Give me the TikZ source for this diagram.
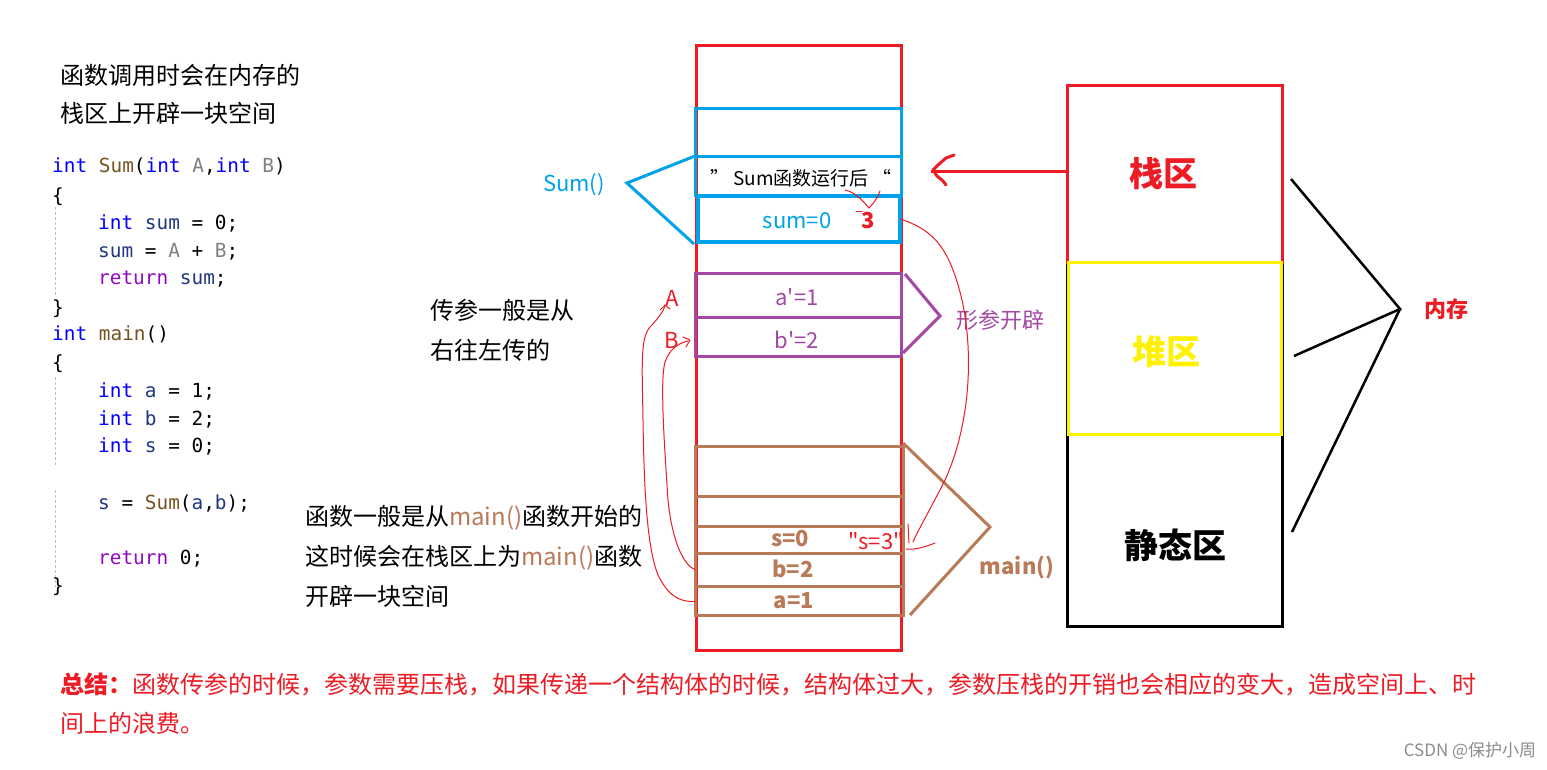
\documentclass[tikz,border=0pt]{standalone}
\usepackage{fontspec}
\setmainfont{Noto Sans CJK SC}
\setmonofont{DejaVu Sans Mono}
\definecolor{pred}{HTML}{ED1C24}
\definecolor{pblue}{HTML}{00A2E8}
\definecolor{ppurple}{HTML}{A349A4}
\definecolor{pbrown}{HTML}{B97A57}
\definecolor{pyellow}{HTML}{FFF200}
\definecolor{ckw}{HTML}{0000FF}
\definecolor{cfn}{HTML}{74531F}
\definecolor{cpar}{HTML}{808080}
\definecolor{cvar}{HTML}{1F377F}
\definecolor{cret}{HTML}{8F08C4}
\newcommand{\ckw}[1]{\textcolor{ckw}{#1}}
\newcommand{\cfn}[1]{\textcolor{cfn}{#1}}
\newcommand{\cpar}[1]{\textcolor{cpar}{#1}}
\newcommand{\cvar}[1]{\textcolor{cvar}{#1}}
\newcommand{\cret}[1]{\textcolor{cret}{#1}}
\tikzset{
  cell/.style={draw, inner sep=0pt, outer sep=0pt, line width=3pt},
  codeline/.style={anchor=base west, inner sep=0pt, font=\ttfamily\fontsize{19.4}{19.4}\selectfont},
  cntext/.style={anchor=base west, inner sep=0pt, font=\fontsize{24}{24}\selectfont},
  lbl/.style={inner sep=0pt, font=\fontsize{22}{22}\selectfont},
  blbl/.style={inner sep=0pt, font=\bfseries\fontsize{22}{22}\selectfont},
  bigl/.style={inner sep=0pt, font=\bfseries\fontsize{34}{34}\selectfont},
  hand/.style={draw=pred, line width=1pt, line cap=round, line join=round},
  guide/.style={draw=black!25, line width=0.8pt, dash pattern=on 3pt off 2pt},
}
\begin{document}
\begin{tikzpicture}[x=1pt,y=-1pt]
\useasboundingbox (0,0) rectangle (1547,769);
\fill[white] (0,0) rectangle (1547,769);

% top-left text
\node[cntext] (t1) at (60,84) {函数调用时会在内存的};
\node[cntext] (t2) at (60,122) {栈区上开辟一块空间};

% code
\draw[guide] (55,207) -- (55,297);
\draw[guide] (55,377) -- (55,465);
\draw[guide] (55,490) -- (55,587);
\node[codeline] (c1) at (52,172) {\ckw{int} \cfn{Sum}(\ckw{int} \cpar{A},\ckw{int} \cpar{B})};
\node[codeline] (c2) at (52,202) {\{};
\node[codeline] (c3) at (98,229) {\ckw{int} \cvar{sum} = 0;};
\node[codeline] (c4) at (98,257) {\cvar{sum} = \cpar{A} + \cpar{B};};
\node[codeline] (c5) at (98,284) {\cret{return} \cvar{sum};};
\node[codeline] (c6) at (52,314) {\}};
\node[codeline] (c7) at (52,340) {\ckw{int} \cfn{main}()};
\node[codeline] (c8) at (52,369) {\{};
\node[codeline] (c9) at (98,397) {\ckw{int} \cvar{a} = 1;};
\node[codeline] (c10) at (98,425) {\ckw{int} \cvar{b} = 2;};
\node[codeline] (c11) at (98,452) {\ckw{int} \cvar{s} = 0;};
\node[codeline] (c12) at (98,509) {\cvar{s} = \cfn{Sum}(\cvar{a},\cvar{b});};
\node[codeline] (c13) at (98,564) {\cret{return} 0;};
\node[codeline] (c14) at (52,592) {\}};

% middle texts
\node[cntext] (m1) at (430,319) {传参一般是从};
\node[cntext] (m2) at (430,359) {右往左传的};
\node[cntext] (m3) at (305,525) {函数一般是从\textcolor{pbrown}{main()}函数开始的};
\node[cntext] (m4) at (305,565) {这时候会在栈区上为\textcolor{pbrown}{main()}函数};
\node[cntext] (m5) at (305,605) {开辟一块空间};

% big stack rectangle
\node[cell, draw=pred, minimum width=205, minimum height=605] (stk) at (798.5,347.5) {};

% Sum frame
\node[cell, draw=pblue, minimum width=206, minimum height=48] (sb1) at (798,132) {};
\node[cell, draw=pblue, minimum width=206, minimum height=39] (sb2) at (798,175.5) {};
\node[cell, draw=pblue, line width=4pt, minimum width=202, minimum height=46] (sb3) at (799,219) {};
\node[inner sep=0pt, font=\fontsize{19}{19}\selectfont] (after) at (801,178) {” Sum函数运行后 “};
\node[lbl, text=pblue] (sumv) at (797,221) {sum=0};
\node[inner sep=0pt, text=pred, font=\bfseries\fontsize{22}{22}\selectfont] (three) at (868,221) {3};
\node[lbl, text=pblue] (sumf) at (574,185) {Sum()};
\coordinate (sumhub) at (627,183);
\draw[pblue, line width=3pt] (sb2.north west) -- (sumhub) -- ([xshift=-4pt,yshift=-2pt]sb3.south west);

% parameter frames
\node[cell, draw=ppurple, minimum width=206, minimum height=44] (pa) at (798,295) {};
\node[cell, draw=ppurple, minimum width=206, minimum height=39] (pb) at (798,336.5) {};
\node[lbl, text=ppurple] (pav) at (797,297) {a\textquotesingle=1};
\node[lbl, text=ppurple] (pbv) at (797,340) {b\textquotesingle=2};
\coordinate (phub) at (940,316);
\draw[ppurple, line width=3pt] (905,274) -- (phub) -- (903,353);
\node[lbl, text=ppurple] (xcp) at (1000,320) {形参开辟};
\node[lbl, text=pred] (la) at (672,298) {A};
\node[lbl, text=pred] (lb) at (672,340) {B};

% main frames
\node[cell, draw=pbrown, minimum width=208, minimum height=50] (mr1) at (799,471) {};
\node[cell, draw=pbrown, minimum width=208, minimum height=30] (mr2) at (799,511) {};
\node[cell, draw=pbrown, minimum width=208, minimum height=27] (mr3) at (799,539.5) {};
\node[cell, draw=pbrown, minimum width=208, minimum height=33] (mr4) at (799,569.5) {};
\node[cell, draw=pbrown, minimum width=208, minimum height=29] (mr5) at (799,600.5) {};
\node[blbl, text=pbrown] (sv) at (790,539) {s=0};
\node[blbl, text=pbrown] (bv) at (793,569) {b=2};
\node[blbl, text=pbrown] (av) at (794,601) {a=1};
\node[lbl, text=pred] (s3) at (876,541) {\textquotedbl s=3\textquotedbl};
\coordinate (mhub) at (990,527);
\draw[pbrown, line width=3pt] (903,443) -- (mhub) -- (910,615);
\node[blbl, text=pbrown] (mainl) at (1017,567) {main()};

% memory box
\node[cell, draw=black, minimum width=215, minimum height=541] (mem) at (1174.5,355.5) {};
\node[cell, draw=pred, minimum width=215, minimum height=177] (zhan) at (1174.5,173.5) {};
\node[cell, draw=pyellow, minimum width=213, minimum height=172] (dui) at (1174.5,348) {};
\node[bigl, text=pred] (zhant) at (1163,174) {栈区};
\node[bigl, text=pyellow] (duit) at (1166,352) {堆区};
\node[bigl, text=black] (jtt) at (1175,545) {静态区};
\coordinate (nhub) at (1400,309);
\draw[black, line width=2.5pt] (1291,179) -- (nhub) -- (1294,356);
\draw[black, line width=2.5pt] (nhub) -- (1292,532);
\node[blbl, text=pred] (nc) at (1446,309) {内存};

% red arrow from stack area
\coordinate (arrtip) at (931,171);
\draw[pred, line width=3pt] (zhan.west |- 0,171) -- (arrtip);
\draw[pred, line width=3pt, line cap=round, line join=round] (954,155) -- (946,158) -- (938,165) -- (933,170) -- (937,176) -- (943,181) -- (946,185);

% hand-drawn curves
\draw[hand] ([yshift=-1pt]mr5.west) .. controls (678,602) and (668,595) .. (658,575)
  .. controls (646,545) and (644,480) .. (643,420)
  .. controls (642,360) and (640,335) .. (652,325)
  .. controls (658,318) and (663,312) .. (665,306);
\draw[hand] (660,310) -- (665,305) -- (670,309);
\draw[hand] (mr4.west) .. controls (683,565) and (672,540) .. (668,500)
  .. controls (664,440) and (660,380) .. (665,362)
  .. controls (669,350) and (678,343) .. (688,341);
\draw[hand] (683,337) -- (690,340) -- (686,347);
\draw[hand] (sb3.east) .. controls (935,230) and (950,250) .. (962,300)
  .. controls (975,360) and (968,430) .. (945,480)
  .. controls (930,510) and (918,530) .. (913,542);
\draw[hand] (906,549) .. controls (915,550) and (925,547) .. (935,543);
\draw[hand] (908,524) -- (909,543);
\draw[hand] (845,190) .. controls (855,192) and (862,200) .. (869,208);
\draw[hand] (880,191) .. controls (878,197) and (874,203) .. (869,208);
\draw[hand] (856,211) -- (862,211);

% summary
\node[anchor=base west, inner sep=0pt, text=pred, font=\fontsize{24}{24}\selectfont] (sum1) at (60,693) {\textbf{总结：}函数传参的时候，参数需要压栈，如果传递一个结构体的时候，结构体过大，参数压栈的开销也会相应的变大，造成空间上、时};
\node[anchor=base west, inner sep=0pt, text=pred, font=\fontsize{24}{24}\selectfont] (sum2) at (60,732) {间上的浪费。};
\node[inner sep=0pt, text=black!45, font=\fontsize{17}{17}\selectfont] (wm) at (1470,751) {CSDN @保护小周};
\end{tikzpicture}
\end{document}
